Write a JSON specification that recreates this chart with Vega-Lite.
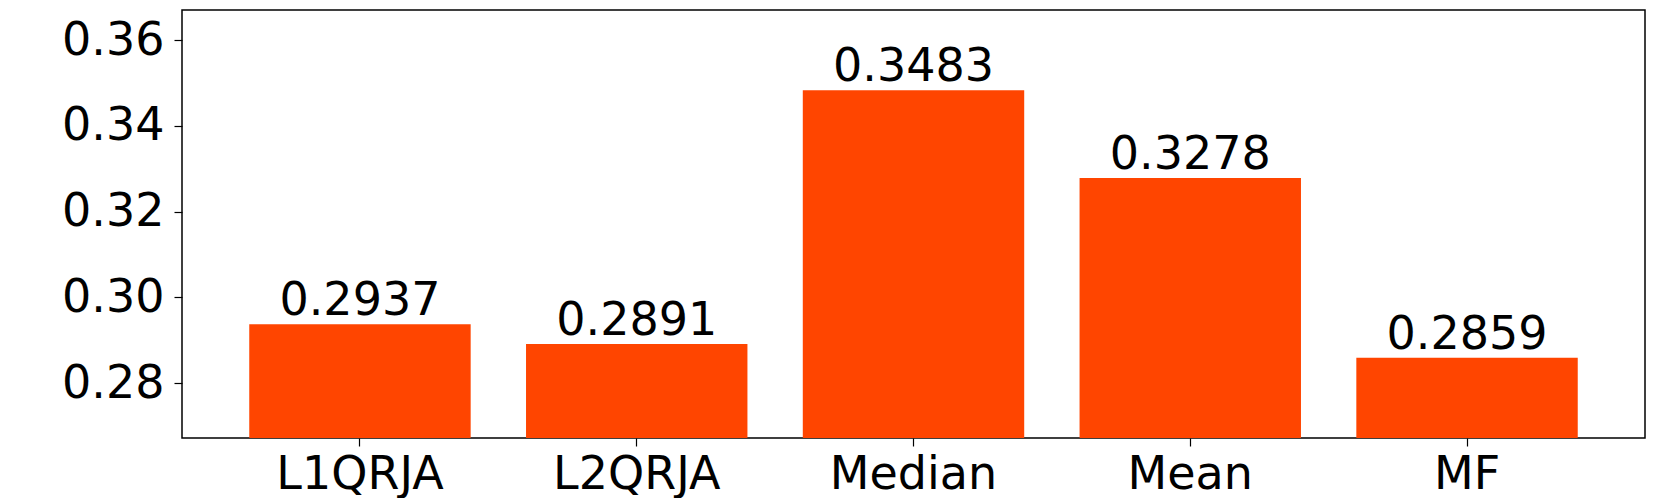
{
  "$schema": "https://vega.github.io/schema/vega-lite/v6.json",
  "autosize": "none",
  "width": 1463,
  "height": 428,
  "padding": {"left": 182, "top": 10, "right": 16, "bottom": 60},
  "background": "white",
  "config": {
    "view": {"stroke": "black", "strokeWidth": 1.5},
    "font": "DejaVu Sans"
  },
  "data": {
    "values": [
      {"method": "L1QRJA", "value": 0.2937},
      {"method": "L2QRJA", "value": 0.2891},
      {"method": "Median", "value": 0.3483},
      {"method": "Mean", "value": 0.3278},
      {"method": "MF", "value": 0.2859}
    ]
  },
  "encoding": {
    "x": {
      "field": "method",
      "type": "nominal",
      "sort": null,
      "scale": {"paddingInner": 0.2, "paddingOuter": 0.243},
      "axis": {
        "title": null,
        "labelAngle": 0,
        "labelFontSize": 46,
        "labelFont": "DejaVu Sans",
        "labelColor": "black",
        "tickColor": "black",
        "tickWidth": 1.2,
        "tickSize": 8,
        "labelPadding": 6,
        "domain": false
      }
    },
    "y": {
      "field": "value",
      "type": "quantitative",
      "scale": {"domain": [0.2672, 0.367], "zero": false, "nice": false},
      "axis": {
        "title": null,
        "values": [0.28, 0.30, 0.32, 0.34, 0.36],
        "format": ".2f",
        "grid": false,
        "labelFontSize": 46,
        "labelFont": "DejaVu Sans",
        "labelColor": "black",
        "tickColor": "black",
        "tickWidth": 1.2,
        "tickSize": 8,
        "labelPadding": 10,
        "domain": false
      }
    }
  },
  "layer": [
    {
      "mark": {"type": "bar", "color": "#FF4500", "clip": true},
      "encoding": {"y2": {"datum": 0.2672}}
    },
    {
      "mark": {"type": "text", "fontSize": 46, "font": "DejaVu Sans", "color": "black", "baseline": "alphabetic", "dy": -9},
      "encoding": {"text": {"field": "value", "type": "quantitative", "format": ".4f"}}
    }
  ]
}
